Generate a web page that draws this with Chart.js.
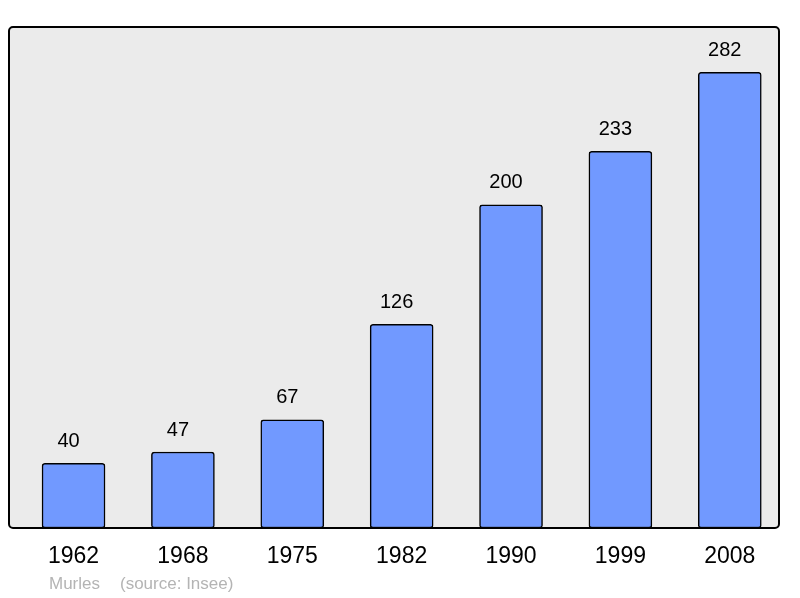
<!DOCTYPE html>
<html>
<head>
<meta charset="utf-8">
<script src="https://cdn.jsdelivr.net/npm/chart.js@4"></script>
<style>
  html, body { margin: 0; padding: 0; background: #fff; }
  #wrap { width: 800px; height: 598px; }
</style>
</head>
<body>
<div id="wrap"><canvas id="chart"></canvas></div>
<script>
// population data
const years = ['1962', '1968', '1975', '1982', '1990', '1999', '2008'];
const population = [40, 47, 67, 126, 200, 233, 282];
const place = 'Murles';
const source = '(source: Insee)';

const FONT = "'Liberation Sans', Arial, sans-serif";

// grey rounded frame behind bars, border on top
const framePlugin = {
  id: 'frame',
  beforeDatasetsDraw(chart) {
    const { ctx, chartArea: a } = chart;
    ctx.save();
    ctx.beginPath();
    ctx.roundRect(a.left, a.top, a.right - a.left, a.bottom - a.top, 4);
    ctx.fillStyle = '#ebebeb';
    ctx.fill();
    ctx.restore();
  },
  afterDatasetsDraw(chart) {
    const { ctx, chartArea: a } = chart;
    ctx.save();
    ctx.beginPath();
    ctx.roundRect(a.left, a.top, a.right - a.left, a.bottom - a.top, 4);
    ctx.lineWidth = 2;
    ctx.strokeStyle = '#000';
    ctx.stroke();

    // value labels above bars (sit a little left of centre, as in the original)
    ctx.fillStyle = '#000';
    ctx.font = '20px ' + FONT;
    ctx.textAlign = 'center';
    ctx.textBaseline = 'middle';
    chart.getDatasetMeta(0).data.forEach((bar, i) => {
      ctx.fillText(String(population[i]), bar.x - 5, bar.y - 22);
    });

    // footer
    ctx.fillStyle = '#b4b4b4';
    ctx.font = '17px ' + FONT;
    ctx.textAlign = 'left';
    ctx.fillText(place, 49, 584);
    ctx.fillText(source, 120, 584);
    ctx.restore();
  }
};

new Chart(document.getElementById('chart'), {
  type: 'bar',
  data: {
    datasets: [{
      data: population.map((v, i) => ({ x: i, y: v })),
      backgroundColor: '#7199ff',
      borderColor: '#000',
      borderWidth: 1.5,
      borderRadius: 3,
      borderSkipped: false,
      barThickness: 63,
    }],
  },
  options: {
    responsive: true,
    maintainAspectRatio: false,
    animation: false,
    layout: { padding: { left: 9, right: 21, top: 27, bottom: 0 } },
    plugins: {
      legend: { display: false },
      tooltip: { enabled: false },
    },
    scales: {
      x: {
        type: 'linear',
        offset: false,
        min: -0.59,
        max: 6.45,
        grid: { display: false, drawTicks: false, offset: false },
        border: { display: false },
        afterBuildTicks(scale) {
          scale.ticks = years.map((_, i) => ({ value: i }));
        },
        afterFit(scale) { scale.height = 70; },
        ticks: {
          autoSkip: false,
          maxRotation: 0,
          padding: 15,
          color: '#000',
          font: { family: FONT, size: 23 },
          callback: (v) => years[v],
        },
      },
      y: {
        display: false,
        min: 0,
        max: 310,
      },
    },
  },
  plugins: [framePlugin],
});
</script>
</body>
</html>
